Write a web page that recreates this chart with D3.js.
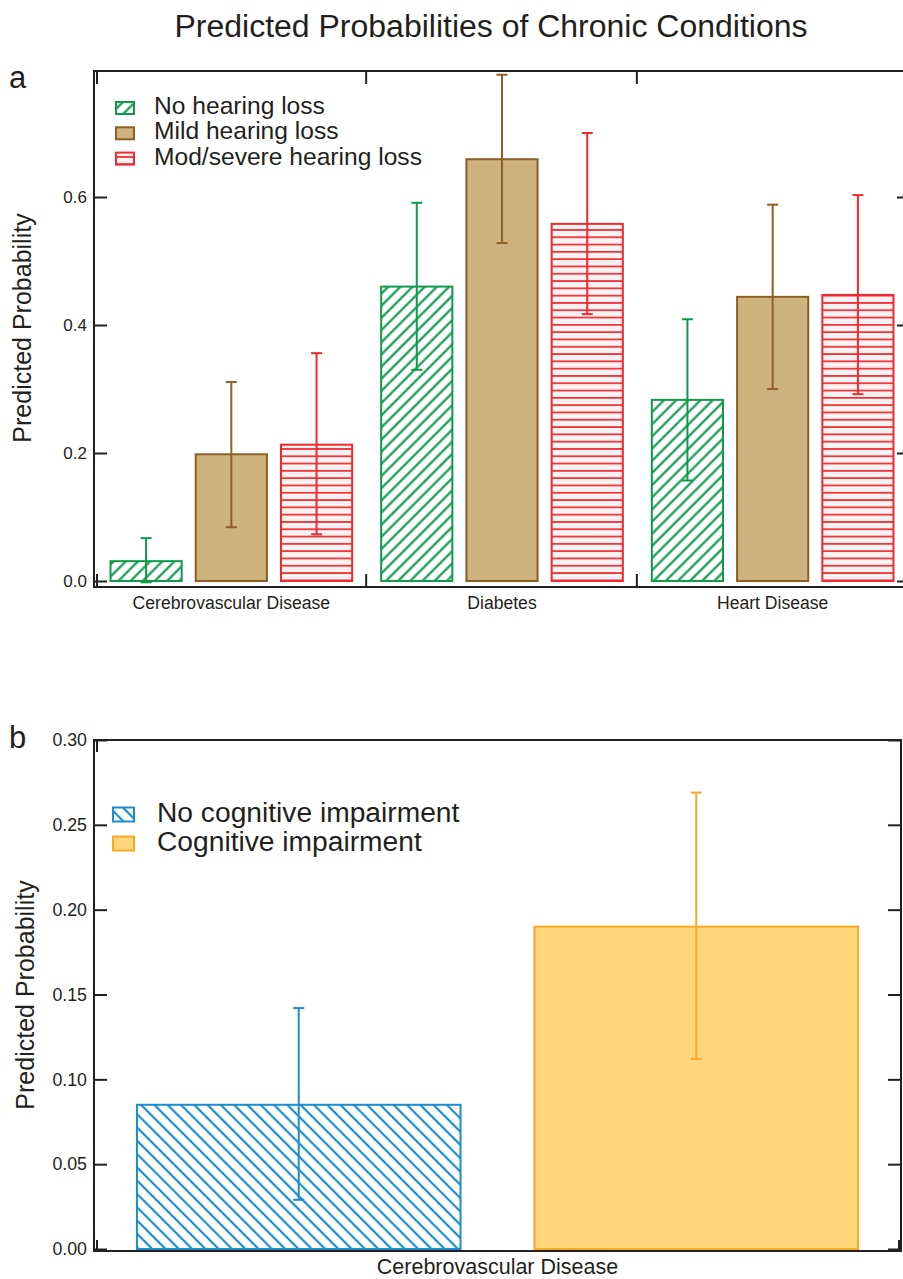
<!DOCTYPE html>
<html>
<head>
<meta charset="utf-8">
<script src="https://cdn.jsdelivr.net/npm/d3@7"></script>
<style>
  html, body { margin: 0; padding: 0; background: #fff; }
  svg { display: block; font-family: "Liberation Sans", Arial, Helvetica, sans-serif; }
</style>
</head>
<body>
<svg id="chart" width="903" height="1279"></svg>
<script>
// ---------- DATA ----------
const titleText = "Predicted Probabilities of Chronic Conditions";
const yLabel = "Predicted Probability";

// Panel a
const categoriesA = ["Cerebrovascular Disease", "Diabetes", "Heart Disease"];
const seriesA = ["No hearing loss", "Mild hearing loss", "Mod/severe hearing loss"];
const valuesNoLoss   = [0.031, 0.460, 0.283];
const lowNoLoss      = [-0.002, 0.330, 0.157];
const highNoLoss     = [0.067, 0.591, 0.409];
const valuesMild     = [0.198, 0.659, 0.444];
const lowMild        = [0.084, 0.528, 0.300];
const highMild       = [0.311, 0.791, 0.588];
const valuesMod      = [0.213, 0.558, 0.447];
const lowMod         = [0.073, 0.417, 0.292];
const highMod        = [0.356, 0.700, 0.603];
const ticksA = [0.0, 0.2, 0.4, 0.6];
const tickLabelsA = ["0.0", "0.2", "0.4", "0.6"];

// Panel b
const categoriesB = ["Cerebrovascular Disease"];
const seriesB = ["No cognitive impairment", "Cognitive impairment"];
const valuesNoCog  = [0.085];
const lowNoCog     = [0.029];
const highNoCog    = [0.142];
const valuesCog    = [0.190];
const lowCog       = [0.112];
const highCog      = [0.269];
const ticksB = [0.00, 0.05, 0.10, 0.15, 0.20, 0.25, 0.30];
const tickLabelsB = ["0.00", "0.05", "0.10", "0.15", "0.20", "0.25", "0.30"];

// ---------- STYLE ----------
const AX = "#231f20";
const svg = d3.select("#chart");
const defs = svg.append("defs");

function hatch(id, color, angle, spacing, sw, bg) {
  const p = defs.append("pattern").attr("id", id)
    .attr("patternUnits", "userSpaceOnUse")
    .attr("width", spacing).attr("height", spacing)
    .attr("patternTransform", `rotate(${angle})`);
  p.append("rect").attr("width", spacing).attr("height", spacing).attr("fill", bg || "#fff");
  p.append("line").attr("x1", spacing/2).attr("x2", spacing/2).attr("y1", 0).attr("y2", spacing)
    .attr("stroke", color).attr("stroke-width", sw);
}
hatch("hGreen", "#0f9a4b", 45, 8.6, 2.2);
hatch("hRed", "#ee2a30", 90, 7.3, 1.7, "#fdf1f1");
hatch("hBlue", "#1d8ccb", -45, 9.4, 2.2);

const styleA = [
  { fill: "url(#hGreen)", stroke: "#0f9a4b", err: "#0f9a4b" },
  { fill: "#cfb37e", stroke: "#8d5f25", err: "#8d5f25" },
  { fill: "url(#hRed)", stroke: "#ee2a30", err: "#ee2a30" }
];
const styleB = [
  { fill: "url(#hBlue)", stroke: "#1d8ccb", err: "#1d8ccb" },
  { fill: "#ffd67c", stroke: "#f6a923", err: "#f6a923" }
];

// Title
svg.append("text").attr("x", 491).attr("y", 37).attr("text-anchor", "middle")
  .attr("font-size", 31).attr("fill", AX).attr("textLength", 633).attr("lengthAdjust", "spacingAndGlyphs")
  .text(titleText);

function errBars(g, xs, lo, hi, y, color, cap) {
  g.append("line").attr("x1", xs).attr("x2", xs).attr("y1", y(lo)).attr("y2", y(hi))
    .attr("stroke", color).attr("stroke-width", 2);
  [lo, hi].forEach(v => g.append("line").attr("x1", xs - cap/2).attr("x2", xs + cap/2)
    .attr("y1", y(v)).attr("y2", y(v)).attr("stroke", color).attr("stroke-width", 2));
}

// ---------- PANEL A ----------
(function () {
  const L = 94, R = 910, T = 71, B = 587;
  const y = d3.scaleLinear().domain([0, 0.8]).range([581, 69]);
  const x0 = d3.scaleBand().domain(categoriesA).range([96, 908]).padding(0);
  const x1 = d3.scaleBand().domain(seriesA).range([14.5, x0.bandwidth() - 14.5]).paddingInner(0.165);
  const g = svg.append("g");
  const vals = [valuesNoLoss, valuesMild, valuesMod];
  const lows = [lowNoLoss, lowMild, lowMod];
  const highs = [highNoLoss, highMild, highMod];

  categoriesA.forEach((c, ci) => {
    seriesA.forEach((s, si) => {
      const bx = x0(c) + x1(s);
      g.append("rect").attr("x", bx).attr("y", y(vals[si][ci]))
        .attr("width", x1.bandwidth()).attr("height", y(0) - y(vals[si][ci]))
        .attr("fill", styleA[si].fill).attr("stroke", styleA[si].stroke).attr("stroke-width", 2);
    });
  });
  categoriesA.forEach((c, ci) => {
    seriesA.forEach((s, si) => {
      const cx = x0(c) + x1(s) + x1.bandwidth() / 2;
      errBars(g, cx, lows[si][ci], highs[si][ci], y, styleA[si].err, 11);
    });
  });

  // Frame
  g.append("path").attr("d", `M${L},${T}H${R}M${L},${T - 1}V${B + 1}M${L - 1},${B}H${R}M${R},${T}V${B}`)
    .attr("fill", "none").attr("stroke", AX).attr("stroke-width", 2);
  // y ticks
  const yAxisL = d3.axisLeft(y).tickValues(ticksA).tickFormat((d, i) => tickLabelsA[i]).tickSize(-13).tickPadding(7);
  const ga = g.append("g").attr("transform", `translate(${L},0)`).call(yAxisL);
  ga.select(".domain").remove();
  ga.selectAll("line").attr("stroke", AX).attr("stroke-width", 2);
  ga.selectAll("text").attr("font-size", 17).attr("fill", AX).attr("font-family", "Liberation Sans, Arial, sans-serif");
  const yAxisR = d3.axisRight(y).tickValues(ticksA).tickFormat("").tickSize(-13);
  const gr = g.append("g").attr("transform", `translate(${R},0)`).call(yAxisR);
  gr.select(".domain").remove();
  gr.selectAll("line").attr("stroke", AX).attr("stroke-width", 2);
  // x boundary ticks
  const bounds = [97].concat(categoriesA.slice(1).map(c => x0(c) - 0.5));
  bounds.forEach(bx => {
    g.append("line").attr("x1", bx).attr("x2", bx).attr("y1", B).attr("y2", B - 13).attr("stroke", AX).attr("stroke-width", 2);
    g.append("line").attr("x1", bx).attr("x2", bx).attr("y1", T).attr("y2", T + 13).attr("stroke", AX).attr("stroke-width", 2);
  });
  // category labels
  categoriesA.forEach(c => {
    g.append("text").attr("x", x0(c) + x0.bandwidth() / 2).attr("y", 609).attr("text-anchor", "middle")
      .attr("font-size", 17.6).attr("fill", AX).text(c);
  });
  // y label
  g.append("text").attr("transform", "translate(31,328) rotate(-90)").attr("text-anchor", "middle")
    .attr("font-size", 25).attr("fill", AX).text(yLabel);
  // panel letter
  svg.append("text").attr("x", 9).attr("y", 88).attr("font-size", 31).attr("fill", AX).text("a");
  // legend
  seriesA.forEach((s, i) => {
    const ly = 114 + i * 25.3;
    g.append("rect").attr("x", 116).attr("y", ly - 12).attr("width", 18).attr("height", 12)
      .attr("fill", styleA[i].fill).attr("stroke", styleA[i].stroke).attr("stroke-width", 2);
    g.append("text").attr("x", 154).attr("y", ly).attr("font-size", 24.6).attr("fill", AX).text(s);
  });
})();

// ---------- PANEL B ----------
(function () {
  const L = 94, R = 901, T = 740, B = 1251;
  const y = d3.scaleLinear().domain([0, 0.30]).range([1249, 740]);
  const x0 = d3.scaleBand().domain(categoriesB).range([L, R]);
  const x1 = d3.scaleBand().domain(seriesB).range([0, x0.bandwidth()]).paddingInner(0.186).paddingOuter(0.108);
  const g = svg.append("g");
  const vals = [valuesNoCog, valuesCog];
  const lows = [lowNoCog, lowCog];
  const highs = [highNoCog, highCog];
  categoriesB.forEach((c, ci) => {
    seriesB.forEach((s, si) => {
      g.append("rect").attr("x", x0(c) + x1(s)).attr("y", y(vals[si][ci]))
        .attr("width", x1.bandwidth()).attr("height", y(0) - y(vals[si][ci]))
        .attr("fill", styleB[si].fill).attr("stroke", styleB[si].stroke).attr("stroke-width", 2);
    });
    seriesB.forEach((s, si) => {
      const cx = x0(c) + x1(s) + x1.bandwidth() / 2;
      errBars(g, cx, lows[si][ci], highs[si][ci], y, styleB[si].err, 11);
    });
  });
  g.append("path").attr("d", `M${L},${T}H${R + 1}M${L},${T - 1}V${B + 1}M${L - 1},${B}H${R + 1}M${R},${T}V${B + 1}`)
    .attr("fill", "none").attr("stroke", AX).attr("stroke-width", 2);
  const yAxisL = d3.axisLeft(y).tickValues(ticksB).tickFormat((d, i) => tickLabelsB[i]).tickSize(-13).tickPadding(7);
  const ga = g.append("g").attr("transform", `translate(${L},0)`).call(yAxisL);
  ga.select(".domain").remove();
  ga.selectAll("line").attr("stroke", AX).attr("stroke-width", 2);
  ga.selectAll("text").attr("font-size", 17.8).attr("fill", AX).attr("font-family", "Liberation Sans, Arial, sans-serif");
  const yAxisR = d3.axisRight(y).tickValues(ticksB).tickFormat("").tickSize(-13);
  const gr = g.append("g").attr("transform", `translate(${R},0)`).call(yAxisR);
  gr.select(".domain").remove();
  gr.selectAll("line").attr("stroke", AX).attr("stroke-width", 2);
  [97, R - 2].forEach(bx => {
    g.append("line").attr("x1", bx).attr("x2", bx).attr("y1", B).attr("y2", B - 11).attr("stroke", AX).attr("stroke-width", 2);
  });
  g.append("line").attr("x1", 97).attr("x2", 97).attr("y1", T).attr("y2", T + 12).attr("stroke", AX).attr("stroke-width", 2);
  categoriesB.forEach(c => {
    g.append("text").attr("x", x0(c) + x0.bandwidth() / 2).attr("y", 1274).attr("text-anchor", "middle")
      .attr("font-size", 21.5).attr("fill", AX).text(c);
  });
  g.append("text").attr("transform", "translate(34,995) rotate(-90)").attr("text-anchor", "middle")
    .attr("font-size", 25).attr("fill", AX).text(yLabel);
  svg.append("text").attr("x", 9).attr("y", 748).attr("font-size", 31).attr("fill", AX).text("b");
  seriesB.forEach((s, i) => {
    const ly = 821.5 + i * 29;
    g.append("rect").attr("x", 113).attr("y", ly - 14).attr("width", 21).attr("height", 14)
      .attr("fill", styleB[i].fill).attr("stroke", styleB[i].stroke).attr("stroke-width", 2);
    g.append("text").attr("x", 157).attr("y", ly).attr("font-size", 28.2).attr("fill", AX).text(s);
  });
})();
</script>
</body>
</html>
